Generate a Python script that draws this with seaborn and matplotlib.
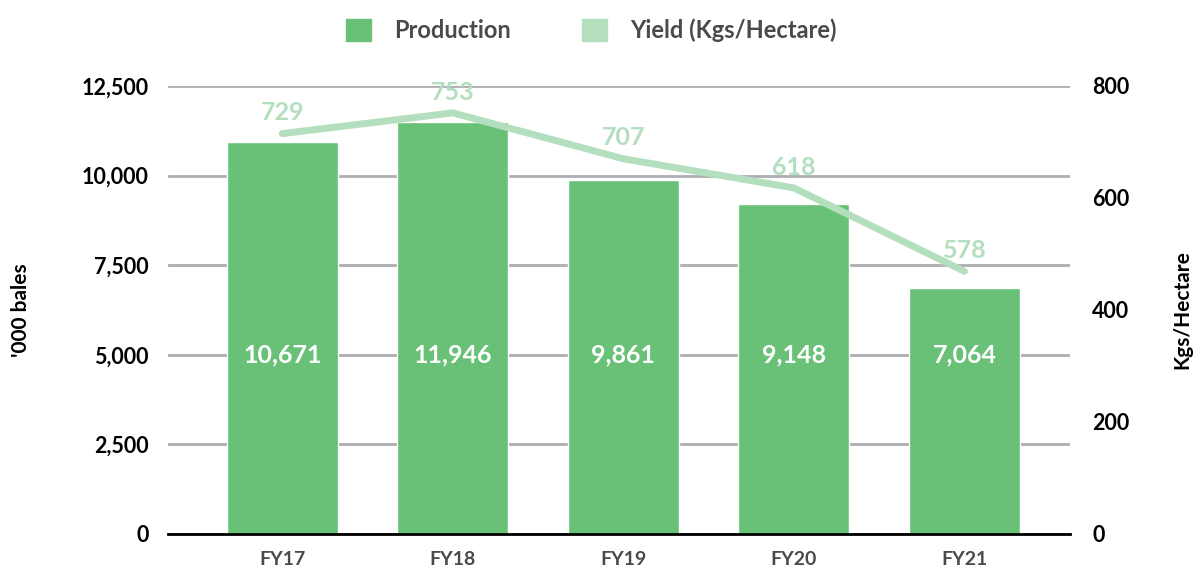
import matplotlib
matplotlib.use("Agg")
import matplotlib.pyplot as plt
from matplotlib.patches import Patch
from matplotlib.ticker import FuncFormatter
import seaborn as sns
import pandas as pd

# -----------------------------
# Data
# -----------------------------
years = ["FY17", "FY18", "FY19", "FY20", "FY21"]
production = [10930, 11490, 9890, 9220, 6870]          # bar heights as drawn
production_labels = ["10,671", "11,946", "9,861", "9,148", "7,064"]
yield_kgs = [715, 752, 670, 618, 469]                    # line points as drawn
yield_labels = ["729", "753", "707", "618", "578"]

BAR_COLOR = "#69c177"
LINE_COLOR = "#b3dfbf"
GRID_COLOR = "#aeaeb0"
TEXT_DARK = "#4a4a4a"

df = pd.DataFrame({"year": years, "production": production, "yield": yield_kgs})

sns.set_theme(style="white")
plt.rcParams["font.family"] = ["Lato", "DejaVu Sans"]

fig = plt.figure(figsize=(11.97, 5.71), dpi=100)
ax = fig.add_axes([0.1404, 0.0648, 0.7536, 0.7846])

sns.barplot(data=df, x="year", y="production", color=BAR_COLOR, width=0.65,
            saturation=1, ax=ax, zorder=2)

ax.set_ylim(0, 12500)
ax.set_yticks([0, 2500, 5000, 7500, 10000, 12500])
ax.yaxis.set_major_formatter(FuncFormatter(lambda v, p: f"{int(v):,}"))
ax.set_xlim(-0.67, 4.62)
ax.grid(axis="y", color=GRID_COLOR, linewidth=2, zorder=0)
ax.grid(axis="x", visible=False)
for s in ["top", "right", "left"]:
    ax.spines[s].set_visible(False)
ax.spines["bottom"].set_color("black")
ax.spines["bottom"].set_linewidth(2)
ax.spines["bottom"].set_zorder(3)
ax.tick_params(axis="y", length=0, pad=14, labelsize=15.5, labelcolor="black")
ax.tick_params(axis="x", length=0, pad=12, labelsize=14, labelcolor=TEXT_DARK)
for lab in ax.get_yticklabels() + ax.get_xticklabels():
    lab.set_fontweight("bold")
ax.set_xlabel("")
ax.set_ylabel("'000 bales", fontsize=15, fontweight="bold", color="black", labelpad=36)

for i, txt in enumerate(production_labels):
    ax.text(i, 5000, txt, ha="center", va="center", color="white",
            fontsize=18, fontweight="bold", zorder=4)

# -----------------------------
# Yield line on secondary axis
# -----------------------------
ax2 = ax.twinx()
sns.lineplot(x=list(range(len(years))), y=yield_kgs, color=LINE_COLOR, linewidth=5,
             ax=ax2, zorder=3)
ax2.set_ylim(0, 800)
ax2.set_yticks([0, 200, 400, 600, 800])
ax2.grid(False)
for s in ["top", "right", "left", "bottom"]:
    ax2.spines[s].set_visible(False)
ax2.tick_params(axis="y", length=0, pad=16, labelsize=15.5, labelcolor="black")
for lab in ax2.get_yticklabels():
    lab.set_fontweight("bold")
ax2.set_ylabel("Kgs/Hectare", fontsize=15, fontweight="bold", color="black", labelpad=31)

for i, (v, txt) in enumerate(zip(yield_kgs, yield_labels)):
    ax2.annotate(txt, (i, v), xytext=(0, 15), textcoords="offset points",
                 ha="center", va="center", color=LINE_COLOR, fontsize=18,
                 fontweight="bold")

# -----------------------------
# Legend
# -----------------------------
handles = [Patch(color=BAR_COLOR, label="Production"),
           Patch(color=LINE_COLOR, label="Yield (Kgs/Hectare)")]
leg = fig.legend(handles=handles, loc="upper center", bbox_to_anchor=(0.494, 1.005),
                 ncol=2, frameon=False, handlelength=1.05, handleheight=1.1,
                 handletextpad=1.0, columnspacing=3.0,
                 prop={"size": 17, "weight": "bold"})
for t in leg.get_texts():
    t.set_color(TEXT_DARK)

fig.savefig("out.png", dpi=100)
